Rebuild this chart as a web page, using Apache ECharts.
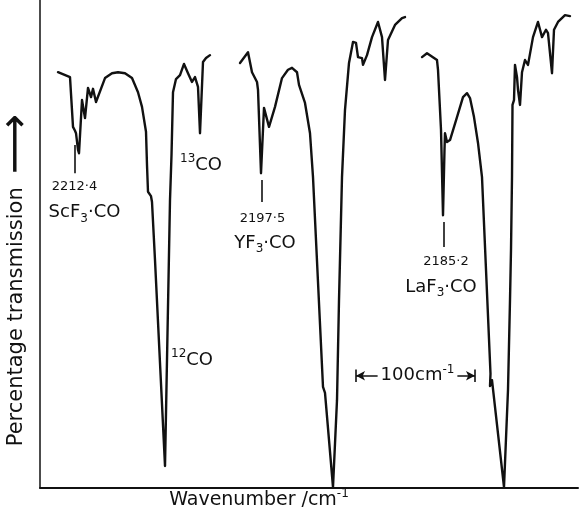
<!DOCTYPE html>
<html>
<head>
<meta charset="utf-8">
<script src="https://cdn.jsdelivr.net/npm/echarts@6/dist/echarts.min.js"></script>
<style>
  html, body { margin: 0; padding: 0; background: #fff; }
  #chart { width: 579px; height: 515px; }
</style>
</head>
<body>
<div id="chart"></div>
<script>
// positions along the (unlabelled) wavenumber axis, and % transmission
var scPos = [18, 30, 33, 35, 36, 38, 39, 42, 45, 48, 51, 53, 56, 65, 72, 78, 85, 92, 98, 102,
  106, 107, 108, 111, 112, 115, 125, 130, 131.5, 133, 136, 140, 144, 148, 152, 155, 158, 160, 163, 166, 170];
var scT = [85.2, 84.2, 74.0, 73.2, 72.7, 69.3, 68.6, 79.5, 75.8, 82.0, 80.1, 81.8, 79.1, 84.0, 85.0, 85.2, 85.0, 84.0, 81.1, 78.1,
  73.0, 66.2, 60.7, 59.8, 58.6, 46.7, 4.5, 59.0, 68.2, 81.1, 83.8, 84.6, 86.9, 85.0, 83.2, 84.2, 82.2, 72.7, 87.3, 88.1, 88.7];

var yPos = [200, 208, 212, 217, 218, 221, 224, 229, 235, 242, 248, 252, 257, 259, 265, 270, 273, 283, 285, 293,
  297, 299, 302, 305, 309, 313, 316, 318, 322, 323, 327, 332, 338, 342, 345, 348, 355, 362, 365];
var yT = [87.1, 89.3, 85.2, 83.2, 81.6, 64.5, 77.9, 74.0, 78.1, 84.0, 85.7, 86.1, 85.2, 82.6, 78.9, 72.7, 63.7, 20.7, 19.5, 0.2,
  18.0, 38.5, 63.7, 77.5, 87.1, 91.4, 91.2, 88.3, 88.1, 86.7, 88.7, 92.4, 95.5, 92.4, 83.6, 91.8, 94.9, 96.3, 96.5];

var laPos = [382, 387, 397, 398, 401, 403, 404.5, 405, 407, 410, 417, 423, 427, 430, 434, 438, 442, 450.5, 450, 452,
  464, 468, 470, 471, 472, 472.5, 474, 475, 477, 478, 480, 482, 485, 488, 493, 498, 502, 506, 508, 512, 514, 518, 525, 530];
var laT = [88.3, 89.1, 87.7, 85.7, 73.4, 55.9, 69.3, 72.7, 70.9, 71.3, 76.0, 80.1, 80.9, 79.9, 76.0, 70.7, 63.7, 23.4, 20.9, 22.1,
  0.2, 20.1, 38.5, 48.8, 63.7, 78.5, 79.5, 86.7, 84.2, 81.6, 78.5, 85.2, 87.7, 86.7, 92.4, 95.5, 92.4, 93.9, 93.2, 85.0, 93.9, 95.5, 96.9, 96.7];

// band labels: [position, %T, text]
var labels = [
  [34.5, 61.7, '{n|2212·4}'],
  [44.5, 56.4, '{m|ScF}{s|3}{m|·CO}'],
  [161, 66.2, '{p|13}{m|CO}'],
  [222.5, 55.3, '{n|2197·5}'],
  [225, 50.2, '{m|YF}{s|3}{m|·CO}'],
  [152, 26.2, '{p|12}{m|CO}'],
  [406, 46.3, '{n|2185·2}'],
  [401, 41.2, '{m|LaF}{s|3}{m|·CO}']
];
// short tick marks under the complex bands: [position, top %T, bottom %T]
var ticks = [[35, 70.3, 64.5], [222, 63.1, 58.6], [404, 54.5, 49.4]];
// 100 cm-1 scale bar: [start, end, %T]
var scaleBar = [316, 435, 23.0];

var FONT = 'DejaVu Sans';
var INK = '#111';

function zip(a, b) {
  return a.map(function (v, i) { return [v, b[i]]; });
}

var rich = {
  n: { fontSize: 13, fontFamily: FONT, color: INK },
  m: { fontSize: 18, fontFamily: FONT, color: INK, lineHeight: 24, verticalAlign: 'middle' },
  s: { fontSize: 12, fontFamily: FONT, color: INK, lineHeight: 12, verticalAlign: 'bottom' },
  p: { fontSize: 12, fontFamily: FONT, color: INK, lineHeight: 12, verticalAlign: 'top' }
};

var tickLines = ticks.map(function (t) {
  return [{ coord: [t[0], t[1]] }, { coord: [t[0], t[2]] }];
});
var barH = 1.3;
tickLines.push([{ coord: [scaleBar[0], scaleBar[2] - barH] }, { coord: [scaleBar[0], scaleBar[2] + barH] }]);
tickLines.push([{ coord: [scaleBar[1], scaleBar[2] - barH] }, { coord: [scaleBar[1], scaleBar[2] + barH] }]);
tickLines.push([
  { coord: [scaleBar[0], scaleBar[2]], symbol: 'arrow' },
  { coord: [scaleBar[1], scaleBar[2]], symbol: 'arrow' }
]);

var labelBase = {
  show: true, position: 'inside', rich: rich,
  color: INK, textBorderWidth: 0, textShadowBlur: 0, opacity: 1
};
var labelData = labels.map(function (l) {
  return {
    value: [l[0], l[1]],
    label: Object.assign({}, labelBase, { formatter: l[2] })
  };
});
labelData.push({
  value: [(scaleBar[0] + scaleBar[1]) / 2 + 2, scaleBar[2]],
  label: Object.assign({}, labelBase, {
    formatter: '{m|100cm}{p|-1}', backgroundColor: '#fff', padding: [0, 3, 0, 3]
  })
});

function trace(name, data) {
  return {
    name: name,
    type: 'line',
    data: data,
    showSymbol: false,
    smooth: false,
    lineStyle: { color: INK, width: 2.4, join: 'round', cap: 'round' },
    silent: true,
    z: 2
  };
}

var chart = echarts.init(document.getElementById('chart'), null, { renderer: 'canvas' });
chart.setOption({
  backgroundColor: '#fff',
  animation: false,
  grid: { left: 40, right: 1, top: 0, bottom: 27 },
  xAxis: {
    type: 'value', min: 0, max: 538,
    axisLine: { show: true, lineStyle: { color: INK, width: 2 } },
    axisTick: { show: false }, axisLabel: { show: false }, splitLine: { show: false }
  },
  yAxis: {
    type: 'value', min: 0, max: 100,
    axisLine: { show: true, lineStyle: { color: INK, width: 1.5 } },
    axisTick: { show: false }, axisLabel: { show: false }, splitLine: { show: false }
  },
  graphic: [
    {
      type: 'text', x: 17, y: 280, rotation: Math.PI / 2,
      style: {
        text: '{t|Percentage transmission  }{a|\u27F6}',
        rich: {
          t: { fontSize: 21, fontFamily: FONT, fill: INK },
          a: { fontSize: 42, fontFamily: FONT, fill: INK }
        },
        align: 'center', verticalAlign: 'middle'
      }
    },
    {
      type: 'text', x: 259, y: 500,
      style: {
        text: '{t|Wavenumber /cm}{p|-1}',
        rich: {
          t: { fontSize: 19, fontFamily: FONT, fill: INK, lineHeight: 24, verticalAlign: 'middle' },
          p: { fontSize: 12, fontFamily: FONT, fill: INK, lineHeight: 12, verticalAlign: 'top' }
        },
        align: 'center', verticalAlign: 'middle'
      }
    }
  ],
  series: [
    trace('ScF3·CO', zip(scPos, scT)),
    trace('YF3·CO', zip(yPos, yT)),
    trace('LaF3·CO', zip(laPos, laT)),
    {
      name: 'labels',
      type: 'scatter',
      symbolSize: 0,
      silent: true,
      z: 5,
      data: labelData,
      markLine: {
        silent: true,
        symbol: 'none',
        symbolSize: [7, 9],
        label: { show: false },
        lineStyle: { color: INK, width: 1.6, type: 'solid' },
        data: tickLines
      }
    }
  ]
});
</script>
</body>
</html>
